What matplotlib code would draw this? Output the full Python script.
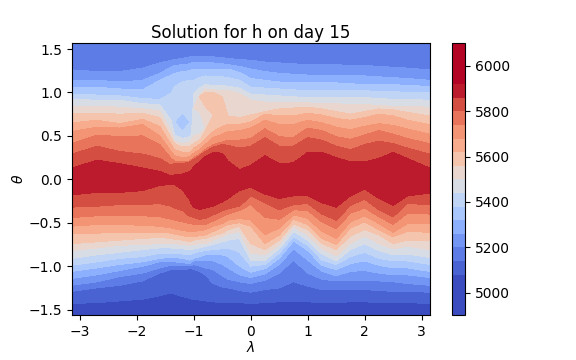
import numpy as np
import matplotlib
matplotlib.use("Agg")
import matplotlib.pyplot as plt
from matplotlib.colors import ListedColormap, BoundaryNorm

lon = [-3.14,-2.7,-2.3,-1.9,-1.6,-1.4,-1.34,-1.2,-1.07,-1.04,-1.0,-0.9,-0.8,-0.66,-0.5,-0.4,-0.2,0,
       .25,.5,.75,1,1.25,1.5,1.75,2,2.25,2.5,2.75,3.14]

# Contour band edges of h and the colour of each band
levels = [4900] + list(range(5080, 5921, 60)) + [6100]
band_colors = ["#3b4cc0","#4a63d3","#5d7ce6","#7396f5","#8db0fe","#aac7fd","#c0d4f5","#d8dce4",
               "#e8d6cf","#f5c4ac","#f7ac8e","#f39475","#e8745c","#d44e41","#bb1b2c","#b40426"]
tick_vals = [5000, 5200, 5400, 5600, 5800, 6000]

# Latitude x 100 where h takes a value, by longitude; north of the core
n_top  = [158]*30
n5200 = [126,124,124,128,134,137,138,139,141,141,141,141,141,141,140,139,138,137,135,134,133,132,132,132,131,131,130,129,128,126]
n5260 = [114,114,112,114,122,129,131,132,133,134,134,134,134,134,133,132,130,127,124,122,121,120,120,119,119,119,118,117,116,114]
n5320 = [106,106,104,103,114,120,122,124,125,126,126,127,127,127,127,127,123,116,114,112,111,111,111,111,110,109,109,109,108,107]
n5380 = [98,97,96,93,92,99,107,112,114,114,114,117,119,118,118,117,114,106,105,104,103,102,102,102,102,102,101,101,100,100]
# low pocket near lon -1.2
n5410a = [95,94,93,90,89,83,66,82,66,66,106,111,114,113,113,112,110,102,101,100,99,98,98,98,98,98,97,96,96,95]
n5380b = n5410a[:7] + [77] + n5410a[8:]
n5360  = n5410a[:7] + [66] + n5410a[8:]
n5380c = n5410a[:7] + [55] + n5410a[8:]
n5410d = n5410a[:7] + [51] + n5410a[8:]
n5440 = [92,91,91,87,86,68,51,47,49,53,99,105,109,108,108,107,105,98,97,96,95,94,94,94,94,94,93,92,92,91]
# high pocket near lon -0.8 and its surroundings
west = [88,87,87,84,82,61,47,44,46,49,82]
n5560c = [76,76,75,76,71,48,41,37,38,40,41,45,55,74,80,73,71,74,78,81,82,83,81,78,75,78,81,80,77,73]
east = n5560c[15:]
n5500 = west + [97,104,103,102,102,99,91,89,88,88,88,87,87,86,86,85,84,84,83]
n5560 = west + [95,100,100,95] + east
n5580 = west + [95,91,88,88] + east
n5560b = west + [95,84,74,80] + east
n5530 = west + [88,70,74,80] + east
n5500b = west + [78,59,74,80] + east
n5470 = west[:10] + [66,64,59,74,80] + east
n5500c = [84,84,83,81,79,55,44,41,43,46,50,52,59,74,80] + east
n5620 = [65,68,64,69,61,40,34,31,31,33,36,40,46,55,61,63,63,66,75,73,73,76,74,70,68,71,75,73,68,63]
n5680 = [55,60,59,63,50,32,27,25,26,28,30,34,40,48,52,55,56,59,68,63,63,68,65,60,57,61,64,62,58,52]
n5740 = [41,51,49,50,40,24,21,20,21,23,25,29,34,40,43,45,45,47,58,49,48,59,56,49,46,51,56,52,47,41]
n5800 = [29,38,32,29,24,16,18,18,20,21,23,27,32,37,40,39,36,38,48,38,38,48,45,38,34,40,44,41,36,29]
n5860 = [13,22,18,13,9,4,5,6,9,11,15,20,26,31,30,21,11,16,27,18,19,31,31,25,20,20,24,31,24,13]
core = [0]*30

# South of the core, latitude x -100
s5860 = [18,15,15,13,7,6,6,12,24,29,32,35,33,31,26,22,13,9,17,22,19,19,27,32,19,11,22,30,19,16]
s5800 = [32,31,29,29,28,31,33,36,43,43,44,46,45,41,36,34,31,19,27,35,29,28,40,47,30,23,35,43,28,29]
s5740 = [44,42,42,42,43,46,47,49,51,51,52,52,52,48,43,40,36,29,44,46,35,36,49,57,39,33,43,52,39,40]
s5680 = [54,52,52,53,54,56,57,59,60,60,60,59,58,54,51,47,45,47,64,56,41,45,60,68,49,42,51,61,51,51]
s5620 = [63,62,61,61,61,62,63,65,66,66,66,65,64,60,55,52,50,54,74,64,46,52,68,75,56,49,58,66,60,61]
s5560 = [74,72,70,68,67,68,69,70,72,71,70,69,68,65,62,58,54,74,81,70,51,58,74,81,65,58,64,74,70,70]
s5500 = [82,79,76,75,74,74,74,75,76,75,75,74,74,70,66,63,60,85,87,75,55,64,80,88,74,65,74,80,77,81]
s5440 = [91,87,84,81,79,79,80,80,81,81,80,79,77,75,72,70,68,93,93,80,60,70,86,94,81,74,82,87,86,90]
s5380 = [99,95,91,89,85,85,85,86,87,86,85,83,82,81,80,79,84,100,98,85,66,76,93,98,89,84,91,94,94,98]
s5320 = [106,102,98,95,91,90,90,91,93,92,91,89,87,86,87,89,100,107,103,91,71,82,99,104,97,94,99,102,102,106]
s5260 = [114,110,105,100,95,94,95,96,97,95,94,94,93,94,98,102,110,113,109,98,80,93,106,111,106,105,108,110,110,113]
s5200 = [122,118,112,108,102,99,99,99,99,99,98,100,102,104,111,115,118,120,116,108,93,108,115,117,116,116,117,118,120,122]
s5140 = [129,125,122,117,108,104,104,104,103,103,104,106,110,120,124,125,128,130,127,125,118,123,127,127,127,127,128,129,129,130]
s5080 = [143,142,140,138,134,131,132,135,137,138,138,139,140,141,142,142,142,143,142,141,141,141,142,142,141,141,142,142,142,143]
s_bot = [158]*30

north = [n_top,n5200,n5260,n5320,n5380,n5410a,n5380b,n5360,n5380c,n5410d,n5440,n5500,n5560,n5580,n5560b,
         n5530,n5500b,n5470,n5500c,n5560c,n5620,n5680,n5740,n5800,n5860,core]
north_h = [5170,5200,5260,5320,5380,5410,5380,5360,5380,5410,5440,5500,5560,5580,5560,
           5530,5500,5470,5500,5560,5620,5680,5740,5800,5860,5885]
south = [s5860,s5800,s5740,s5680,s5620,s5560,s5500,s5440,s5380,s5320,s5260,s5200,s5140,s5080,s_bot]
south_h = [5860,5800,5740,5680,5620,5560,5500,5440,5380,5320,5260,5200,5140,5080,5040]

lat = np.vstack([np.array(north, float), -np.array(south, float)]) / 100.0
h = np.array(north_h + south_h, float)
X = np.tile(np.array(lon), (lat.shape[0], 1))
Z = np.tile(h[:, None], (1, X.shape[1]))

n_band = len(levels) - 1
cmap = ListedColormap(band_colors)
norm = BoundaryNorm(levels, n_band)

fig = plt.figure(figsize=(5.76, 3.6), dpi=100)
W, H = 576.0, 360.0
ax = fig.add_axes([72/W, (H-315.3)/H, 357.6/W, 272/H])
cax = fig.add_axes([451.7/W, (H-315.3)/H, 13.6/W, 272/H])

cf = ax.contourf(X, lat, Z, levels=levels, cmap=cmap, norm=norm)
ax.set_xlim(-3.14, 3.14)
ax.set_ylim(-1.566, 1.566)
ax.set_xticks([-3,-2,-1,0,1,2,3])
ax.set_yticks([-1.5,-1.0,-0.5,0.0,0.5,1.0,1.5])
ax.tick_params(labelsize=10)
ax.set_xlabel(r"$\lambda$", fontsize=10, labelpad=1)
ax.set_ylabel(r"$\theta$", fontsize=10, labelpad=2)
ax.set_title("Solution for h on day 15", fontsize=12, pad=4)

cb = fig.colorbar(cf, cax=cax, spacing="proportional", ticks=tick_vals)
cb.ax.minorticks_off()
cb.ax.tick_params(labelsize=10)

fig.savefig("out.png", dpi=100)
